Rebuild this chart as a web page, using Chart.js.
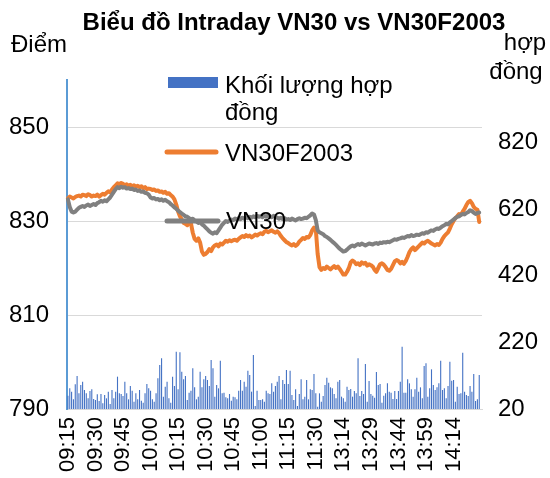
<!DOCTYPE html>
<html>
<head>
<meta charset="utf-8">
<script src="https://cdn.jsdelivr.net/npm/chart.js@4"></script>
<style>
html,body{margin:0;padding:0;background:#fff;}
#wrap{width:550px;height:478px;}
</style>
</head>
<body>
<div id="wrap"><canvas id="c" width="550" height="478"></canvas></div>
<script>
const FONT = '"Liberation Sans", Arial, sans-serif';
const titleText = 'Biểu đồ Intraday VN30 vs VN30F2003';
const leftAxisTitle = 'Điểm';
const rightAxisTitle = ['hợp', 'đồng'];
const legendLabels = ['Khối lượng hợp đồng', 'VN30F2003', 'VN30'];

const tickLabels = ['09:15','09:30','09:45','10:00','10:15','10:30','10:45','11:00','11:15','11:30','13:14','13:29','13:44','13:59','14:14'];
const leftTicks = [790, 810, 830, 850];
const rightTicks = [20, 220, 420, 620, 820];

// minute categories: morning 09:15-11:30, afternoon 13:00-14:29
const sessions = [['09:15','11:30'], ['13:00','14:29']];
const categories = [];
sessions.forEach(([a, b]) => {
  const toM = s => parseInt(s.slice(0,2)) * 60 + parseInt(s.slice(3));
  for (let m = toM(a); m <= toM(b); m++) {
    categories.push(String(Math.floor(m/60)).padStart(2,'0') + ':' + String(m%60).padStart(2,'0'));
  }
});

const vn30f = [
834.8,835.2,835.0,834.8,835.1,835.3,835.4,835.2,835.6,835.5,835.3,835.7,835.5,835.2,835.4,
835.3,835.6,835.2,835.5,835.8,835.6,836.0,836.3,836.1,836.7,837.2,837.6,838.0,837.8,838.1,
837.9,837.6,837.8,837.5,837.7,837.4,837.6,837.3,837.5,837.2,837.4,837.0,837.2,836.8,836.9,
836.8,836.6,836.7,836.4,836.5,836.2,836.3,836.0,836.2,835.8,835.9,835.5,835.2,834.6,833.5,
832.0,831.0,830.3,829.6,829.4,829.1,829.8,829.5,827.5,826.2,825.8,826.3,825.4,823.5,822.8,
823.0,823.4,824.0,823.6,824.4,824.8,825.0,824.6,825.2,825.0,825.4,825.8,825.6,825.9,825.7,
825.9,826.0,825.8,826.2,826.5,826.8,826.6,827.0,826.7,826.9,826.5,826.8,827.1,826.9,827.2,
827.4,827.2,827.7,827.9,827.6,827.8,828.0,827.7,827.5,827.8,827.4,826.8,826.3,825.9,825.5,
825.3,825.0,824.8,825.1,824.7,825.0,825.6,826.0,826.4,826.2,826.6,826.5,827.0,828.0,828.6,
828.2,
823.0,820.2,819.6,820.0,819.8,820.3,820.0,819.7,820.1,820.4,820.0,820.3,819.8,819.2,818.6,
818.6,819.2,820.0,821.2,821.6,821.3,820.8,821.0,820.6,821.2,820.9,821.1,820.5,820.8,820.6,
820.3,819.6,819.2,820.0,820.8,821.0,820.7,820.2,819.6,819.4,819.8,820.6,821.4,821.7,821.5,
821.0,821.3,820.9,821.5,822.4,823.4,824.0,824.4,823.8,824.2,824.6,825.0,825.4,825.2,825.6,
825.8,825.5,825.2,825.0,824.8,825.1,824.9,825.4,826.2,826.8,827.2,827.6,828.4,829.3,830.0,
830.6,831.0,831.5,831.3,832.0,832.6,833.4,834.0,834.3,833.8,833.0,832.6,832.4,829.8
];

const vn30 = [
834.6,833.0,832.0,831.8,832.0,832.4,832.8,833.0,833.2,833.0,833.3,833.5,833.2,833.4,833.6,
833.4,833.8,834.0,834.3,834.1,834.4,834.2,834.6,835.0,835.6,836.2,836.8,837.2,837.0,837.3,
837.1,837.2,836.9,837.0,836.8,836.9,836.6,836.7,836.4,836.5,836.2,836.3,836.0,835.9,835.6,
835.0,834.8,834.9,834.6,834.7,834.4,834.6,834.3,834.5,834.2,834.0,833.6,833.3,832.9,832.6,
832.2,831.9,831.6,831.3,831.0,830.9,830.6,830.4,830.5,830.1,829.9,829.6,829.8,829.3,829.0,
828.6,828.2,827.8,827.5,827.3,827.6,827.4,828.0,828.6,829.2,829.6,830.0,829.8,830.1,830.3,
830.2,830.5,830.3,830.6,830.4,830.7,830.5,830.8,830.6,830.9,830.7,831.0,830.8,831.1,830.9,
831.0,830.8,831.1,830.9,831.2,831.0,830.8,831.1,830.9,830.7,830.5,830.7,830.4,830.6,830.3,
830.4,830.2,830.5,830.3,830.1,830.4,830.6,830.4,830.5,830.7,830.6,830.9,831.2,831.6,831.4,
830.2,
828.0,827.6,827.4,827.2,826.8,826.6,826.3,826.0,825.6,825.3,824.9,824.5,824.1,823.8,823.5,
823.6,823.9,824.3,824.6,824.8,824.6,824.9,825.1,824.9,825.2,825.0,824.8,825.0,825.2,825.1,
825.0,825.2,825.3,825.1,825.4,825.3,825.5,825.4,825.6,825.5,825.7,825.9,826.1,826.0,826.2,
826.3,826.5,826.4,826.6,826.8,826.7,827.0,826.8,826.9,827.1,827.0,827.2,827.4,827.3,827.6,
827.5,827.8,828.0,827.9,828.2,828.4,828.3,828.6,828.9,829.1,829.4,829.3,829.7,830.0,830.3,
830.6,830.9,831.0,831.3,831.5,831.4,831.7,831.9,832.3,832.1,831.8,831.5,831.7,831.8
];

const volume = [
60,
82,72,49,94,119,67,92,102,77,67,
52,74,79,50,47,64,44,65,37,62,
52,72,35,77,52,72,117,67,65,59,
102,67,49,89,75,42,67,49,77,45,
39,67,95,82,75,49,42,67,112,152,
172,57,87,102,52,39,117,89,192,79,
190,132,109,119,47,69,75,142,85,49,
57,132,85,109,119,107,89,167,142,57,
92,82,165,67,69,55,52,65,45,57,
55,49,75,107,75,102,87,135,122,72,
182,29,75,47,47,49,42,75,67,
65,97,72,89,102,119,49,107,95,137,
95,135,62,47,79,29,65,109,49,57,
107,49,79,77,125,67,27,67,42,59,
92,114,99,85,82,65,52,102,107,57,
52,42,87,77,80,57,74,67,172,59,
74,65,155,42,104,65,60,54,131,92,
95,39,60,67,97,72,69,50,74,50,
74,102,207,69,69,109,97,79,57,79,
114,72,85,52,149,157,57,82,139,92,
77,85,97,165,77,82,52,89,162,105,
107,42,87,65,67,189,72,62,59,89,
72,125,44,49,122
];

const COLORS = { bar: '#4472C4', f: '#ED7D31', idx: '#808080', grid: '#D9D9D9', leftAxis: '#5B9BD5' };

const overlay = {
  id: 'overlay',
  afterDraw(chart) {
    const c = chart.ctx;
    c.save();
    c.fillStyle = '#000';
    c.textBaseline = 'alphabetic';
    c.font = 'bold 24px ' + FONT;
    c.textAlign = 'center';
    c.fillText(titleText, 294, 30);
    c.font = '24px ' + FONT;
    c.textAlign = 'left';
    c.fillText(leftAxisTitle, 11, 52);
    c.textAlign = 'center';
    c.fillText(rightAxisTitle[0], 525, 50);
    c.fillText(rightAxisTitle[1], 516, 79);
    // legend
    c.fillStyle = COLORS.bar;
    c.fillRect(168, 77, 50, 11);
    c.fillStyle = '#000';
    c.textAlign = 'left';
    c.fillText('Khối lượng hợp', 225, 93);
    c.fillText('đồng', 225, 120);
    c.lineCap = 'round';
    c.lineWidth = 5;
    c.strokeStyle = COLORS.f;
    c.beginPath(); c.moveTo(167, 152); c.lineTo(216, 152); c.stroke();
    c.fillText(legendLabels[1], 225, 161);
    c.strokeStyle = COLORS.idx;
    c.beginPath(); c.moveTo(167, 221); c.lineTo(218, 221); c.stroke();
    c.fillText(legendLabels[2], 226, 229);
    c.restore();
  }
};

new Chart(document.getElementById('c'), {
  data: {
    labels: categories,
    datasets: [
      { type: 'bar', label: legendLabels[0], data: volume, yAxisID: 'y2', backgroundColor: COLORS.bar,
        barPercentage: 0.6, categoryPercentage: 1, order: 3 },
      { type: 'line', label: legendLabels[1], data: vn30f, yAxisID: 'y', borderColor: COLORS.f, borderWidth: 4,
        pointRadius: 0, tension: 0, borderJoinStyle: 'round', borderCapStyle: 'round', order: 2 },
      { type: 'line', label: legendLabels[2], data: vn30, yAxisID: 'y', borderColor: COLORS.idx, borderWidth: 4,
        pointRadius: 0, tension: 0, borderJoinStyle: 'round', borderCapStyle: 'round', order: 1 }
    ]
  },
  options: {
    responsive: false,
    animation: false,
    layout: { padding: { top: 80, left: 0, right: 0, bottom: 0 } },
    plugins: { legend: { display: false }, title: { display: false }, tooltip: { enabled: false } },
    scales: {
      x: {
        grid: { display: false, drawTicks: false },
        border: { color: COLORS.grid, width: 1 },
        ticks: {
          autoSkip: false, maxRotation: 90, minRotation: 90, padding: 8,
          color: '#000', font: { size: 22, family: FONT },
          callback: (v, i) => tickLabels.includes(categories[i]) ? categories[i] : ''
        },
        afterFit: s => { s.height = 69; }
      },
      y: {
        position: 'left', min: 790, max: 860,
        grid: { color: COLORS.grid, drawTicks: false },
        border: { color: COLORS.leftAxis, width: 2 },
        ticks: { padding: 18, color: '#000', font: { size: 24, family: FONT } },
        afterBuildTicks: s => { s.ticks = leftTicks.map(v => ({ value: v })); },
        afterFit: s => { s.width = 67; }
      },
      y2: {
        position: 'right', min: 20, max: 1007,
        grid: { display: false, drawTicks: false },
        border: { display: false },
        ticks: { padding: 16, color: '#000', font: { size: 24, family: FONT } },
        afterBuildTicks: s => { s.ticks = rightTicks.map(v => ({ value: v })); },
        afterFit: s => { s.width = 68; }
      }
    }
  },
  plugins: [overlay]
});
</script>
</body>
</html>
